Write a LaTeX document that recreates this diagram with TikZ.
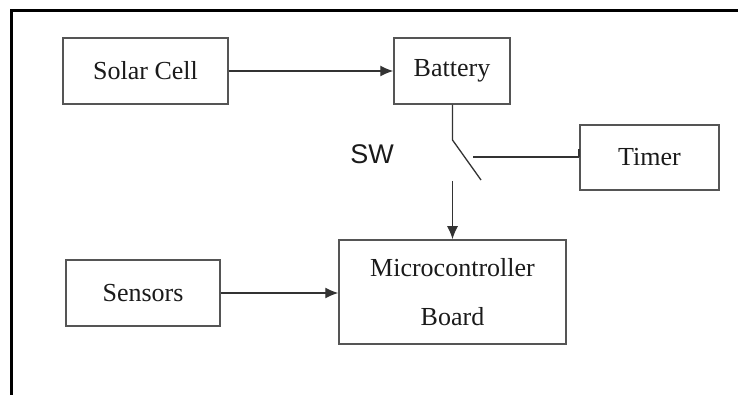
\documentclass[tikz,border=0pt]{standalone}
\usepackage{fontspec}
\setmainfont{Liberation Serif}
\newfontfamily\swfont{Liberation Sans}
\usepackage{tikz}
\definecolor{blkEdge}{HTML}{555555}
\definecolor{blkText}{HTML}{1A1A1A}
\definecolor{wireLine}{HTML}{333333}
\usetikzlibrary{arrows.meta}

\begin{document}
\begin{tikzpicture}[x=1pt,y=-1pt,
  blk/.style={draw=blkEdge, line width=1.5pt, minimum height=66pt, inner sep=0pt,
    text=blkText, font=\fontsize{26}{30}\selectfont},
  wire/.style={draw=wireLine, line width=1.3pt},
  feed/.style={wire, -{Latex[length=13pt,width=11pt]}}]
  \useasboundingbox (0,0) rectangle (738,395);
  \draw[black, line width=3pt] (11,395) -- (11,11) -- (738,11);
  % blocks
  \node[blk, minimum width=165pt] (sol) at (145.5,71) {Solar Cell};
  \node[blk, minimum width=116pt] (bat) at (452,71) {Battery};
  \node[blk, minimum width=139pt, minimum height=65pt] (tim) at (649.5,157.5) {Timer};
  \node[blk, minimum width=154pt] (sen) at (143,293) {Sensors};
  \node[blk, minimum width=227pt, minimum height=104pt, align=center,
    font=\fontsize{26}{49}\selectfont] (mcu) at (452.5,292) {Microcontroller\\Board};
  \node[text=blkText, font=\swfont\fontsize{27}{30}\selectfont] (swlbl) at (372,154) {SW};
  % switch
  \coordinate (swtop) at (452.5,140);
  \coordinate (swend) at (481,180);
  \coordinate (swtap) at (473,157);
  \coordinate (swout) at (452.5,181);
  \draw[feed] (sol.east) -- (bat.west);
  \draw[wire] (swtop |- bat.south) -- (swtop) -- (swend);
  \draw[wire] (swtap) -- (swtap -| tim.west) coordinate (tap);
  \draw[wireLine, line width=2.4pt] (tap) -- ([yshift=8pt]tap);
  \draw[feed] (swout) -- (swout |- mcu.north);
  \draw[feed] (sen.east) -- (sen.east -| mcu.west);
\end{tikzpicture}
\end{document}
